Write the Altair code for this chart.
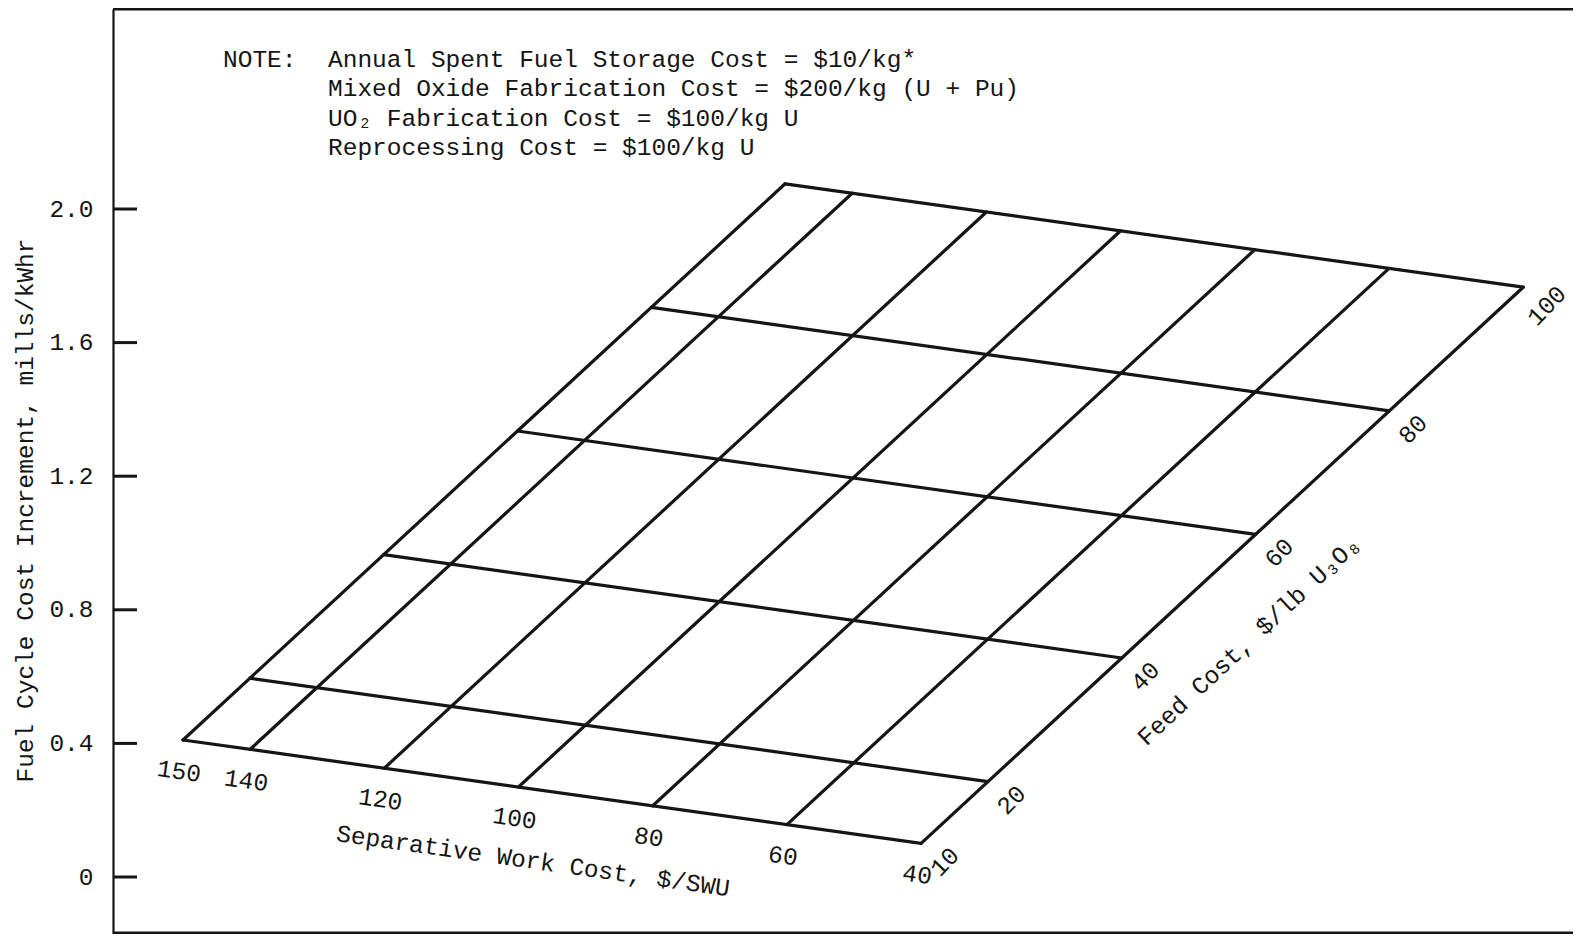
import altair as alt
import pandas as pd

# ---------------- data ----------------
swu_costs = [150, 140, 120, 100, 80, 60, 40]        # Separative work cost grid lines, $/SWU
feed_costs = [10, 20, 40, 60, 80, 100]              # Feed cost grid lines, $/lb U3O8
y_ticks = [0.0, 0.4, 0.8, 1.2, 1.6, 2.0]            # mills/kWhr
note_label = "NOTE:"
note_lines = [
    "Annual Spent Fuel Storage Cost = $10/kg*",
    "Mixed Oxide Fabrication Cost = $200/kg (U + Pu)",
    "UO\u2082 Fabrication Cost = $100/kg U",
    "Reprocessing Cost = $100/kg U",
]
y_title = "Fuel Cycle Cost Increment, mills/kWhr"
swu_title = "Separative Work Cost, $/SWU"
feed_title = "Feed Cost, $/lb U\u2083O\u2088"

# ---------------- layout / projection ----------------
W, H = 1460, 925
PX_PER_MILL = 334.0
Y_MAX = 868 / PX_PER_MILL
Y_MIN = Y_MAX - H / PX_PER_MILL

# oblique projection of the (SWU cost, feed cost) plane
SWU_REF, FEED_REF = 150, 10
ORIGIN_X, ORIGIN_Y = 70.0, 137 / PX_PER_MILL
SWU_DX, SWU_DY = -6.71, 0.94 / PX_PER_MILL      # per +1 $/SWU
FEED_DX, FEED_DY = 6.69, 6.18 / PX_PER_MILL     # per +1 $/lb


def proj(s, f):
    x = ORIGIN_X + (s - SWU_REF) * SWU_DX + (f - FEED_REF) * FEED_DX
    y = ORIGIN_Y + (s - SWU_REF) * SWU_DY + (f - FEED_REF) * FEED_DY
    return x, y


FONT = "Courier New, Liberation Mono, monospace"
FS = 24.5
INK = "#151515"

s_lo, s_hi = min(swu_costs), max(swu_costs)
f_lo, f_hi = min(feed_costs), max(feed_costs)

seg_rows = []
for s in swu_costs:
    x1, y1 = proj(s, f_lo)
    x2, y2 = proj(s, f_hi)
    seg_rows.append({"x": x1, "y": y1, "x2": x2, "y2": y2})
for f in feed_costs:
    x1, y1 = proj(s_hi, f)
    x2, y2 = proj(s_lo, f)
    seg_rows.append({"x": x1, "y": y1, "x2": x2, "y2": y2})
segs = pd.DataFrame(seg_rows)

swu_lab = pd.DataFrame(
    [{"x": proj(s, f_lo)[0] - 4, "y": proj(s, f_lo)[1] - 32 / PX_PER_MILL, "t": str(s)} for s in swu_costs]
)
feed_lab = pd.DataFrame(
    [{"x": proj(s_lo, f)[0] + 24, "y": proj(s_lo, f)[1] - 19 / PX_PER_MILL, "t": str(f)} for f in feed_costs]
)
sx, sy = proj(95, f_lo)
fx, fy = proj(s_lo, 55)
titles = pd.DataFrame([
    {"x": sx - 19, "y": sy - 70 / PX_PER_MILL, "t": swu_title, "a": 8},
    {"x": fx + 27, "y": fy - 76 / PX_PER_MILL, "t": feed_title, "a": -43},
])

xscale = alt.Scale(domain=[0, W], nice=False, zero=False)
yscale = alt.Scale(domain=[Y_MIN, Y_MAX], nice=False, zero=False)
yaxis = alt.Axis(
    values=y_ticks,
    labelExpr="datum.value == 0 ? '0' : format(datum.value, '.1f')",
    ticks=False, grid=False, domain=True, domainColor=INK, domainWidth=2.2,
    labelFont=FONT, labelFontSize=FS, labelColor=INK, labelPadding=20,
    title=y_title, titleFont=FONT, titleFontSize=FS, titleFontWeight="normal",
    titleColor=INK, titleX=-88, titleY=501, titleAngle=270,
    titleAlign="center", titleBaseline="middle",
)


def X(f="x"):
    return alt.X(f"{f}:Q", scale=xscale, axis=None)


def Y(f="y"):
    return alt.Y(f"{f}:Q", scale=yscale, axis=yaxis)


one = pd.DataFrame({"k": [0]})

top_rule = alt.Chart(one).mark_rule(color=INK, strokeWidth=2.8).encode(
    x=alt.value(0), x2=alt.value(W), y=alt.value(0))
bottom_rule = alt.Chart(one).mark_rule(color=INK, strokeWidth=2.8).encode(
    x=alt.value(0), x2=alt.value(W), y=alt.value(H - 1))

ticks = alt.Chart(pd.DataFrame({"v": y_ticks})).mark_rule(color=INK, strokeWidth=3).encode(
    x=alt.value(0), x2=alt.value(24), y=Y("v"))

grid = alt.Chart(segs).mark_rule(color=INK, strokeWidth=3.2, strokeCap="round").encode(
    x=X("x"), y=Y("y"), x2="x2:Q", y2="y2:Q")

swu_text = alt.Chart(swu_lab).mark_text(
    font=FONT, fontSize=FS, color=INK, angle=8, align="center", baseline="middle"
).encode(x=X(), y=Y(), text="t:N")

feed_text = alt.Chart(feed_lab).mark_text(
    font=FONT, fontSize=FS, color=INK, angle=314, align="center", baseline="middle"
).encode(x=X(), y=Y(), text="t:N")

title_text = alt.Chart(titles).mark_text(
    font=FONT, fontSize=FS, color=INK, align="center", baseline="middle"
).encode(x=X(), y=Y(), text="t:N", angle=alt.Angle("a:Q", scale=None))

note_head = alt.Chart(one).mark_text(
    text=note_label, font=FONT, fontSize=FS, color=INK, align="left", baseline="alphabetic"
).encode(x=alt.value(110), y=alt.value(58))

note_body = alt.Chart(one).mark_text(
    text=note_lines, font=FONT, fontSize=FS, color=INK, align="left",
    baseline="alphabetic", lineHeight=29.3
).encode(x=alt.value(215), y=alt.value(58))

chart = alt.layer(
    top_rule, bottom_rule, ticks, grid, swu_text, feed_text, title_text, note_head, note_body
).properties(
    width=W, height=H,
    padding={"left": 105, "top": 1, "right": 0, "bottom": 0},
    autosize=alt.AutoSizeParams(type="none"),
    background="white",
).configure_view(stroke=None)

chart.save("out.html", embed_options={"renderer": "svg", "actions": False})
